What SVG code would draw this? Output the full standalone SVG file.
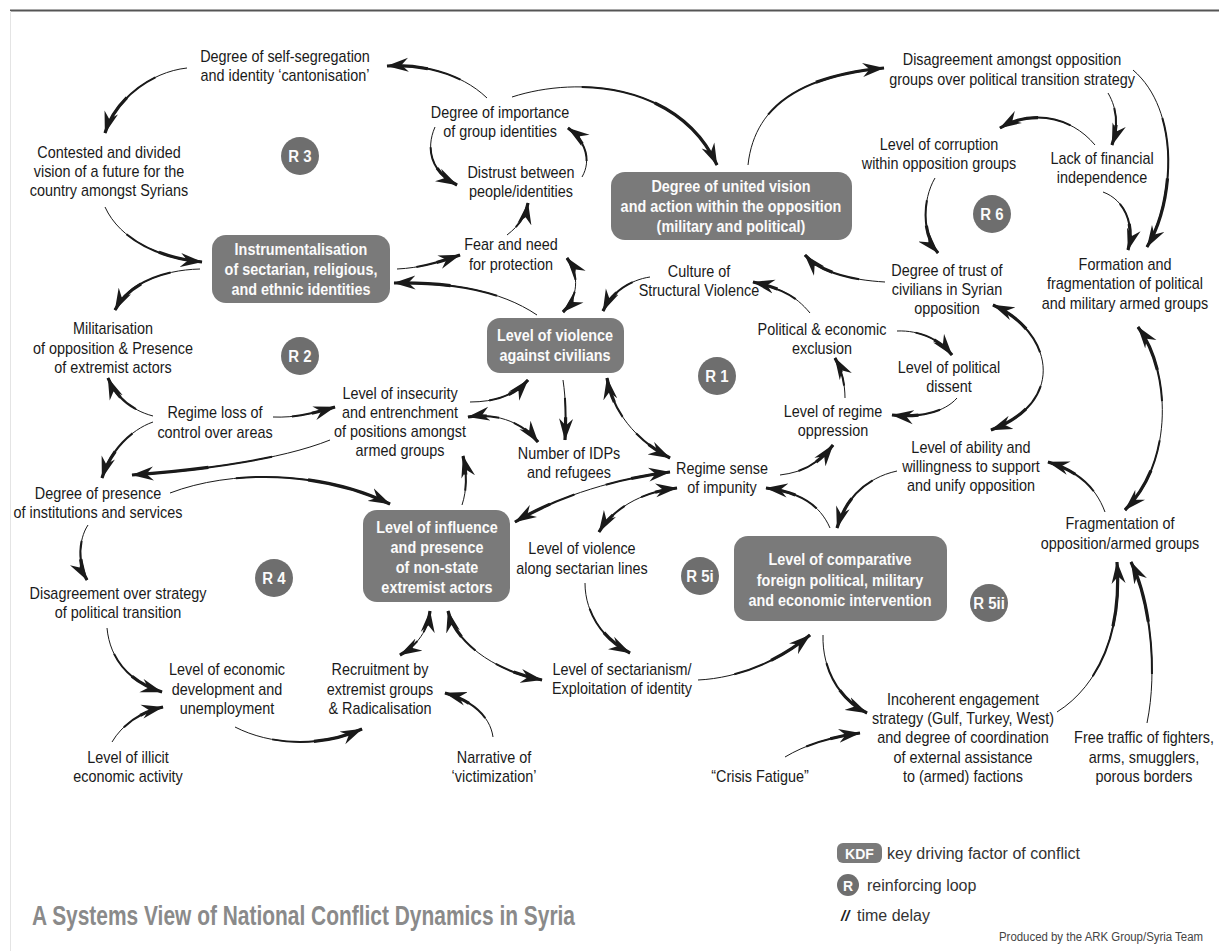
<svg xmlns="http://www.w3.org/2000/svg" xmlns:xlink="http://www.w3.org/1999/xlink" width="1219" height="951" viewBox="0 0 1219 951">
<style>
.t{font-family:"Liberation Sans",Arial,sans-serif;font-size:16px;fill:#1a1a1a;text-anchor:middle}
.b{font-family:"Liberation Sans",Arial,sans-serif;font-size:16px;font-weight:bold;fill:#fbfbfb;text-anchor:middle}
.box{fill:#7a7a7a}
.rc{fill:#6e6e6e}
.rt{font-family:"Liberation Sans",Arial,sans-serif;font-size:17px;font-weight:bold;fill:#fbfbfb;text-anchor:middle}
.lg{font-family:"Liberation Sans",Arial,sans-serif;font-size:16px;fill:#333}
.c use{fill:none;stroke:#1a1a1a;stroke-linecap:butt}
.s0{stroke-width:1;marker-end:url(#ah)}
.s1{stroke-width:2;stroke-dasharray:0 30 70}
.s2{stroke-width:3.2;stroke-dasharray:0 62 38}
.d0{stroke-width:1;marker-start:url(#ah);marker-end:url(#ah)}
.d1{stroke-width:2;stroke-dasharray:40 20 40}
.d2{stroke-width:3.2;stroke-dasharray:24 52 24}
</style>
<defs>
<marker id="ah" viewBox="0 0 22 15" refX="21.5" refY="7.5" markerWidth="22" markerHeight="15" markerUnits="userSpaceOnUse" orient="auto-start-reverse">
<path d="M0,0.5 L22,7.5 L0,14.5 L7,7.5 Z" fill="#1a1a1a"/>
</marker>
<path id="p01" pathLength="100" d="M487,98 C460,72 420,64 387,66"/>
<path id="p02" pathLength="100" d="M512,97 C580,75 680,85 717,165"/>
<path id="p03" pathLength="100" d="M748,165 C755,100 810,75 884,68"/>
<path id="p04" pathLength="100" d="M1133,70 C1180,110 1175,200 1147,247"/>
<path id="p05" pathLength="100" d="M1108,93 C1118,110 1118,128 1112,145"/>
<path id="p06" pathLength="100" d="M1095,145 C1070,115 1030,110 1000,128"/>
<path id="p07" pathLength="100" d="M1103,192 C1125,200 1135,225 1128,250"/>
<path id="p08" pathLength="100" d="M935,178 C922,200 922,235 938,253"/>
<path id="p09" pathLength="100" d="M885,282 C850,280 820,272 805,255"/>
<path id="p10" pathLength="100" d="M810,313 C795,295 780,288 753,282"/>
<path id="p11" pathLength="100" d="M650,277 C630,280 612,292 603,311"/>
<path id="p12" pathLength="100" d="M537,315 C500,290 450,282 394,283"/>
<path id="p13" pathLength="100" d="M397,269 C420,268 440,262 460,255"/>
<path id="p14" pathLength="100" d="M507,235 C520,225 526,215 528,203"/>
<path id="p15" pathLength="100" d="M582,177 C592,160 585,140 568,128"/>
<path id="p16" pathLength="100" d="M435,127 C425,150 432,172 457,185"/>
<path id="p17" pathLength="100" d="M567,258 C580,275 578,298 563,312"/>
<path id="p18" pathLength="100" d="M470,402 C495,402 515,395 528,380"/>
<path id="p19" pathLength="100" d="M563,380 C566,400 566,420 565,440"/>
<path id="p20" pathLength="100" d="M468,417 C500,412 525,425 538,442"/>
<path id="p21" pathLength="100" d="M607,378 C612,410 635,440 670,458"/>
<path id="p22" pathLength="100" d="M670,472 C620,478 560,495 515,522"/>
<path id="p23" pathLength="100" d="M677,488 C640,492 612,510 599,532"/>
<path id="p24" pathLength="100" d="M780,475 C805,472 820,462 833,445"/>
<path id="p25" pathLength="100" d="M845,398 C845,385 842,370 835,358"/>
<path id="p26" pathLength="100" d="M897,331 C920,330 940,340 952,355"/>
<path id="p27" pathLength="100" d="M957,398 C945,412 920,418 892,415"/>
<path id="p28" pathLength="100" d="M993,305 C1050,330 1070,400 991,430"/>
<path id="p29" pathLength="100" d="M1138,327 C1170,370 1175,460 1125,510"/>
<path id="p30" pathLength="100" d="M1105,512 C1095,485 1075,470 1048,462"/>
<path id="p31" pathLength="100" d="M897,471 C865,478 845,500 837,528"/>
<path id="p32" pathLength="100" d="M830,528 C820,505 800,492 766,488"/>
<path id="p33" pathLength="100" d="M823,635 C822,670 840,700 867,713"/>
<path id="p34" pathLength="100" d="M785,757 C805,745 830,737 860,733"/>
<path id="p35" pathLength="100" d="M698,680 C740,678 780,660 810,635"/>
<path id="p36" pathLength="100" d="M585,583 C585,615 605,640 630,653"/>
<path id="p37" pathLength="100" d="M448,611 C455,640 490,670 542,680"/>
<path id="p38" pathLength="100" d="M430,611 C428,630 418,645 400,655"/>
<path id="p39" pathLength="100" d="M493,737 C490,715 470,700 445,693"/>
<path id="p40" pathLength="100" d="M235,727 C270,745 320,748 362,729"/>
<path id="p41" pathLength="100" d="M107,628 C110,660 130,682 162,692"/>
<path id="p42" pathLength="100" d="M112,742 C122,725 140,712 163,707"/>
<path id="p43" pathLength="100" d="M88,525 C78,540 78,565 87,580"/>
<path id="p44" pathLength="100" d="M153,422 C130,430 110,452 102,478"/>
<path id="p45" pathLength="100" d="M153,416 C130,410 115,395 108,378"/>
<path id="p46" pathLength="100" d="M273,417 C295,418 315,413 335,407"/>
<path id="p47" pathLength="100" d="M330,440 C280,460 200,470 132,475"/>
<path id="p48" pathLength="100" d="M170,493 C230,470 320,470 390,504"/>
<path id="p49" pathLength="100" d="M462,505 C467,490 467,472 463,456"/>
<path id="p50" pathLength="100" d="M200,269 C160,270 128,285 115,310"/>
<path id="p51" pathLength="100" d="M105,207 C120,240 160,258 202,262"/>
<path id="p52" pathLength="100" d="M187,68 C150,72 115,100 105,133"/>
<path id="p53" pathLength="100" d="M1057,712 C1100,685 1122,630 1117,562"/>
<path id="p54" pathLength="100" d="M1147,723 C1158,670 1150,600 1131,562"/>
</defs>

<rect x="0" y="0" width="1219" height="951" fill="#ffffff"/>
<line x1="10" y1="10.5" x2="1219" y2="10.5" stroke="#555" stroke-width="2"/>
<line x1="10.5" y1="11" x2="10.5" y2="951" stroke="#e4e4e4" stroke-width="1"/>

<g id="connectors" class="c">
<use xlink:href="#p01" class="s0"/><use xlink:href="#p01" class="s1"/><use xlink:href="#p01" class="s2"/>
<use xlink:href="#p02" class="s0"/><use xlink:href="#p02" class="s1"/><use xlink:href="#p02" class="s2"/>
<use xlink:href="#p03" class="s0"/><use xlink:href="#p03" class="s1"/><use xlink:href="#p03" class="s2"/>
<use xlink:href="#p04" class="s0"/><use xlink:href="#p04" class="s1"/><use xlink:href="#p04" class="s2"/>
<use xlink:href="#p05" class="s0"/><use xlink:href="#p05" class="s1"/><use xlink:href="#p05" class="s2"/>
<use xlink:href="#p06" class="s0"/><use xlink:href="#p06" class="s1"/><use xlink:href="#p06" class="s2"/>
<use xlink:href="#p07" class="s0"/><use xlink:href="#p07" class="s1"/><use xlink:href="#p07" class="s2"/>
<use xlink:href="#p08" class="s0"/><use xlink:href="#p08" class="s1"/><use xlink:href="#p08" class="s2"/>
<use xlink:href="#p09" class="s0"/><use xlink:href="#p09" class="s1"/><use xlink:href="#p09" class="s2"/>
<use xlink:href="#p10" class="s0"/><use xlink:href="#p10" class="s1"/><use xlink:href="#p10" class="s2"/>
<use xlink:href="#p11" class="s0"/><use xlink:href="#p11" class="s1"/><use xlink:href="#p11" class="s2"/>
<use xlink:href="#p12" class="s0"/><use xlink:href="#p12" class="s1"/><use xlink:href="#p12" class="s2"/>
<use xlink:href="#p13" class="s0"/><use xlink:href="#p13" class="s1"/><use xlink:href="#p13" class="s2"/>
<use xlink:href="#p14" class="s0"/><use xlink:href="#p14" class="s1"/><use xlink:href="#p14" class="s2"/>
<use xlink:href="#p15" class="s0"/><use xlink:href="#p15" class="s1"/><use xlink:href="#p15" class="s2"/>
<use xlink:href="#p16" class="s0"/><use xlink:href="#p16" class="s1"/><use xlink:href="#p16" class="s2"/>
<use xlink:href="#p17" class="d0"/><use xlink:href="#p17" class="d1"/><use xlink:href="#p17" class="d2"/>
<use xlink:href="#p18" class="s0"/><use xlink:href="#p18" class="s1"/><use xlink:href="#p18" class="s2"/>
<use xlink:href="#p19" class="s0"/><use xlink:href="#p19" class="s1"/><use xlink:href="#p19" class="s2"/>
<use xlink:href="#p20" class="d0"/><use xlink:href="#p20" class="d1"/><use xlink:href="#p20" class="d2"/>
<use xlink:href="#p21" class="d0"/><use xlink:href="#p21" class="d1"/><use xlink:href="#p21" class="d2"/>
<use xlink:href="#p22" class="d0"/><use xlink:href="#p22" class="d1"/><use xlink:href="#p22" class="d2"/>
<use xlink:href="#p23" class="d0"/><use xlink:href="#p23" class="d1"/><use xlink:href="#p23" class="d2"/>
<use xlink:href="#p24" class="s0"/><use xlink:href="#p24" class="s1"/><use xlink:href="#p24" class="s2"/>
<use xlink:href="#p25" class="s0"/><use xlink:href="#p25" class="s1"/><use xlink:href="#p25" class="s2"/>
<use xlink:href="#p26" class="s0"/><use xlink:href="#p26" class="s1"/><use xlink:href="#p26" class="s2"/>
<use xlink:href="#p27" class="s0"/><use xlink:href="#p27" class="s1"/><use xlink:href="#p27" class="s2"/>
<use xlink:href="#p28" class="d0"/><use xlink:href="#p28" class="d1"/><use xlink:href="#p28" class="d2"/>
<use xlink:href="#p29" class="d0"/><use xlink:href="#p29" class="d1"/><use xlink:href="#p29" class="d2"/>
<use xlink:href="#p30" class="s0"/><use xlink:href="#p30" class="s1"/><use xlink:href="#p30" class="s2"/>
<use xlink:href="#p31" class="s0"/><use xlink:href="#p31" class="s1"/><use xlink:href="#p31" class="s2"/>
<use xlink:href="#p32" class="s0"/><use xlink:href="#p32" class="s1"/><use xlink:href="#p32" class="s2"/>
<use xlink:href="#p33" class="s0"/><use xlink:href="#p33" class="s1"/><use xlink:href="#p33" class="s2"/>
<use xlink:href="#p34" class="s0"/><use xlink:href="#p34" class="s1"/><use xlink:href="#p34" class="s2"/>
<use xlink:href="#p35" class="s0"/><use xlink:href="#p35" class="s1"/><use xlink:href="#p35" class="s2"/>
<use xlink:href="#p36" class="s0"/><use xlink:href="#p36" class="s1"/><use xlink:href="#p36" class="s2"/>
<use xlink:href="#p37" class="d0"/><use xlink:href="#p37" class="d1"/><use xlink:href="#p37" class="d2"/>
<use xlink:href="#p38" class="d0"/><use xlink:href="#p38" class="d1"/><use xlink:href="#p38" class="d2"/>
<use xlink:href="#p39" class="s0"/><use xlink:href="#p39" class="s1"/><use xlink:href="#p39" class="s2"/>
<use xlink:href="#p40" class="s0"/><use xlink:href="#p40" class="s1"/><use xlink:href="#p40" class="s2"/>
<use xlink:href="#p41" class="s0"/><use xlink:href="#p41" class="s1"/><use xlink:href="#p41" class="s2"/>
<use xlink:href="#p42" class="s0"/><use xlink:href="#p42" class="s1"/><use xlink:href="#p42" class="s2"/>
<use xlink:href="#p43" class="s0"/><use xlink:href="#p43" class="s1"/><use xlink:href="#p43" class="s2"/>
<use xlink:href="#p44" class="s0"/><use xlink:href="#p44" class="s1"/><use xlink:href="#p44" class="s2"/>
<use xlink:href="#p45" class="s0"/><use xlink:href="#p45" class="s1"/><use xlink:href="#p45" class="s2"/>
<use xlink:href="#p46" class="s0"/><use xlink:href="#p46" class="s1"/><use xlink:href="#p46" class="s2"/>
<use xlink:href="#p47" class="s0"/><use xlink:href="#p47" class="s1"/><use xlink:href="#p47" class="s2"/>
<use xlink:href="#p48" class="s0"/><use xlink:href="#p48" class="s1"/><use xlink:href="#p48" class="s2"/>
<use xlink:href="#p49" class="s0"/><use xlink:href="#p49" class="s1"/><use xlink:href="#p49" class="s2"/>
<use xlink:href="#p50" class="s0"/><use xlink:href="#p50" class="s1"/><use xlink:href="#p50" class="s2"/>
<use xlink:href="#p51" class="s0"/><use xlink:href="#p51" class="s1"/><use xlink:href="#p51" class="s2"/>
<use xlink:href="#p52" class="s0"/><use xlink:href="#p52" class="s1"/><use xlink:href="#p52" class="s2"/>
<use xlink:href="#p53" class="s0"/><use xlink:href="#p53" class="s1"/><use xlink:href="#p53" class="s2"/>
<use xlink:href="#p54" class="s0"/><use xlink:href="#p54" class="s1"/><use xlink:href="#p54" class="s2"/>
</g>

<g id="nodes">
<g id="n-self-segregation"><text class="t" transform="translate(285 0) scale(.9 1)"><tspan x="0" y="62">Degree of self-segregation</tspan><tspan x="0" y="81">and identity ‘cantonisation’</tspan></text></g>
<g id="n-contested"><text class="t" transform="translate(109 0) scale(.9 1)"><tspan x="0" y="158">Contested and divided</tspan><tspan x="0" y="177">vision of a future for the</tspan><tspan x="0" y="196">country amongst Syrians</tspan></text></g>
<g id="n-instrumentalisation"><rect class="box" x="212" y="235" width="178" height="68" rx="14"/><text class="b" transform="translate(301 0) scale(.9 1)"><tspan x="0" y="255">Instrumentalisation</tspan><tspan x="0" y="275">of sectarian, religious,</tspan><tspan x="0" y="295">and ethnic identities</tspan></text></g>
<g id="n-importance"><text class="t" transform="translate(500 0) scale(.9 1)"><tspan x="0" y="118">Degree of importance</tspan><tspan x="0" y="137">of group identities</tspan></text></g>
<g id="n-distrust"><text class="t" transform="translate(521 0) scale(.9 1)"><tspan x="0" y="178">Distrust between</tspan><tspan x="0" y="197">people/identities</tspan></text></g>
<g id="n-fear"><text class="t" transform="translate(511 0) scale(.9 1)"><tspan x="0" y="250">Fear and need</tspan><tspan x="0" y="270">for protection</tspan></text></g>
<g id="n-united"><rect class="box" x="611" y="172" width="241" height="68" rx="14"/><text class="b" transform="translate(731 0) scale(.9 1)"><tspan x="0" y="192">Degree of united vision</tspan><tspan x="0" y="212">and action within the opposition</tspan><tspan x="0" y="232">(military and political)</tspan></text></g>
<g id="n-culture"><text class="t" transform="translate(699 0) scale(.9 1)"><tspan x="0" y="277">Culture of</tspan><tspan x="0" y="296">Structural Violence</tspan></text></g>
<g id="n-violence"><rect class="box" x="487" y="318" width="137" height="55" rx="13"/><text class="b" transform="translate(555 0) scale(.9 1)"><tspan x="0" y="341">Level of violence</tspan><tspan x="0" y="361">against civilians</tspan></text></g>
<g id="n-disagreement-opp"><text class="t" transform="translate(1012 0) scale(.9 1)"><tspan x="0" y="65">Disagreement amongst opposition</tspan><tspan x="0" y="85">groups over political transition strategy</tspan></text></g>
<g id="n-corruption"><text class="t" transform="translate(939 0) scale(.9 1)"><tspan x="0" y="150">Level of corruption</tspan><tspan x="0" y="169">within opposition groups</tspan></text></g>
<g id="n-lack"><text class="t" transform="translate(1102 0) scale(.9 1)"><tspan x="0" y="164">Lack of financial</tspan><tspan x="0" y="183">independence</tspan></text></g>
<g id="n-trust"><text class="t" transform="translate(947 0) scale(.9 1)"><tspan x="0" y="276">Degree of trust of</tspan><tspan x="0" y="295">civilians in Syrian</tspan><tspan x="0" y="314">opposition</tspan></text></g>
<g id="n-formation"><text class="t" transform="translate(1125 0) scale(.9 1)"><tspan x="0" y="270">Formation and</tspan><tspan x="0" y="289">fragmentation of political</tspan><tspan x="0" y="309">and military armed groups</tspan></text></g>
<g id="n-militarisation"><text class="t" transform="translate(113 0) scale(.9 1)"><tspan x="0" y="334">Militarisation</tspan><tspan x="0" y="354">of opposition &amp; Presence</tspan><tspan x="0" y="373">of extremist actors</tspan></text></g>
<g id="n-regime-loss"><text class="t" transform="translate(215 0) scale(.9 1)"><tspan x="0" y="418">Regime loss of</tspan><tspan x="0" y="438">control over areas</tspan></text></g>
<g id="n-insecurity"><text class="t" transform="translate(400 0) scale(.9 1)"><tspan x="0" y="399">Level of insecurity</tspan><tspan x="0" y="418">and entrenchment</tspan><tspan x="0" y="437">of positions amongst</tspan><tspan x="0" y="456">armed groups</tspan></text></g>
<g id="n-idps"><text class="t" transform="translate(569 0) scale(.9 1)"><tspan x="0" y="459">Number of IDPs</tspan><tspan x="0" y="478">and refugees</tspan></text></g>
<g id="n-impunity"><text class="t" transform="translate(722 0) scale(.9 1)"><tspan x="0" y="474">Regime sense</tspan><tspan x="0" y="493">of impunity</tspan></text></g>
<g id="n-presence"><text class="t" transform="translate(98 0) scale(.9 1)"><tspan x="0" y="499">Degree of presence</tspan><tspan x="0" y="518">of institutions and services</tspan></text></g>
<g id="n-influence"><rect class="box" x="363" y="510" width="147" height="92" rx="14"/><text class="b" transform="translate(437 0) scale(.9 1)"><tspan x="0" y="533">Level of influence</tspan><tspan x="0" y="553">and presence</tspan><tspan x="0" y="573">of non-state</tspan><tspan x="0" y="593">extremist actors</tspan></text></g>
<g id="n-violence-sectarian"><text class="t" transform="translate(582 0) scale(.9 1)"><tspan x="0" y="554">Level of violence</tspan><tspan x="0" y="574">along sectarian lines</tspan></text></g>
<g id="n-comparative"><rect class="box" x="734" y="536" width="213" height="85" rx="14"/><text class="b" transform="translate(840 0) scale(.9 1)"><tspan x="0" y="565">Level of comparative</tspan><tspan x="0" y="586">foreign political, military</tspan><tspan x="0" y="606">and economic intervention</tspan></text></g>
<g id="n-exclusion"><text class="t" transform="translate(822 0) scale(.9 1)"><tspan x="0" y="335">Political &amp; economic</tspan><tspan x="0" y="354">exclusion</tspan></text></g>
<g id="n-dissent"><text class="t" transform="translate(949 0) scale(.9 1)"><tspan x="0" y="373">Level of political</tspan><tspan x="0" y="392">dissent</tspan></text></g>
<g id="n-oppression"><text class="t" transform="translate(833 0) scale(.9 1)"><tspan x="0" y="417">Level of regime</tspan><tspan x="0" y="436">oppression</tspan></text></g>
<g id="n-ability"><text class="t" transform="translate(971 0) scale(.9 1)"><tspan x="0" y="453">Level of ability and</tspan><tspan x="0" y="472">willingness to support</tspan><tspan x="0" y="491">and unify opposition</tspan></text></g>
<g id="n-fragmentation"><text class="t" transform="translate(1120 0) scale(.9 1)"><tspan x="0" y="529">Fragmentation of</tspan><tspan x="0" y="549">opposition/armed groups</tspan></text></g>
<g id="n-disagreement-strategy"><text class="t" transform="translate(118 0) scale(.9 1)"><tspan x="0" y="599">Disagreement over strategy</tspan><tspan x="0" y="618">of political transition</tspan></text></g>
<g id="n-economic"><text class="t" transform="translate(227 0) scale(.9 1)"><tspan x="0" y="675">Level of economic</tspan><tspan x="0" y="695">development and</tspan><tspan x="0" y="714">unemployment</tspan></text></g>
<g id="n-illicit"><text class="t" transform="translate(128 0) scale(.9 1)"><tspan x="0" y="763">Level of illicit</tspan><tspan x="0" y="782">economic activity</tspan></text></g>
<g id="n-recruitment"><text class="t" transform="translate(380 0) scale(.9 1)"><tspan x="0" y="675">Recruitment by</tspan><tspan x="0" y="695">extremist groups</tspan><tspan x="0" y="714">&amp; Radicalisation</tspan></text></g>
<g id="n-narrative"><text class="t" transform="translate(494 0) scale(.9 1)"><tspan x="0" y="763">Narrative of</tspan><tspan x="0" y="782">‘victimization’</tspan></text></g>
<g id="n-sectarianism"><text class="t" transform="translate(622 0) scale(.9 1)"><tspan x="0" y="675">Level of sectarianism/</tspan><tspan x="0" y="694">Exploitation of identity</tspan></text></g>
<g id="n-incoherent"><text class="t" transform="translate(963 0) scale(.9 1)"><tspan x="0" y="705">Incoherent engagement</tspan><tspan x="0" y="724">strategy (Gulf, Turkey, West)</tspan><tspan x="0" y="743">and degree of coordination</tspan><tspan x="0" y="763">of external assistance</tspan><tspan x="0" y="782">to (armed) factions</tspan></text></g>
<g id="n-crisis"><text class="t" transform="translate(760 0) scale(.9 1)"><tspan x="0" y="782">“Crisis Fatigue”</tspan></text></g>
<g id="n-free-traffic"><text class="t" transform="translate(1144 0) scale(.9 1)"><tspan x="0" y="743">Free traffic of fighters,</tspan><tspan x="0" y="763">arms, smugglers,</tspan><tspan x="0" y="782">porous borders</tspan></text></g>
</g>

<g id="loops">
<g id="r3"><circle class="rc" cx="300" cy="156" r="19"/><text class="rt" transform="translate(300 162) scale(.88 1)">R 3</text></g>
<g id="r2"><circle class="rc" cx="300" cy="356" r="19"/><text class="rt" transform="translate(300 362) scale(.88 1)">R 2</text></g>
<g id="r1"><circle class="rc" cx="717" cy="376" r="19"/><text class="rt" transform="translate(717 382) scale(.88 1)">R 1</text></g>
<g id="r4"><circle class="rc" cx="274" cy="578" r="19"/><text class="rt" transform="translate(274 584) scale(.88 1)">R 4</text></g>
<g id="r5i"><circle class="rc" cx="700" cy="576" r="19"/><text class="rt" transform="translate(700 582) scale(.88 1)">R 5i</text></g>
<g id="r5ii"><circle class="rc" cx="989" cy="603" r="19"/><text class="rt" transform="translate(989 609) scale(.88 1)">R 5ii</text></g>
<g id="r6"><circle class="rc" cx="992" cy="214" r="19"/><text class="rt" transform="translate(992 220) scale(.88 1)">R 6</text></g>
</g>

<g id="legend">
<rect class="box" x="837" y="843" width="45" height="20" rx="6"/>
<text class="b" x="859.5" y="859" style="font-size:14px">KDF</text>
<text class="lg" x="887" y="859">key driving factor of conflict</text>
<circle class="rc" cx="848" cy="885" r="11"/>
<text class="b" x="848" y="890.5" style="font-size:14px">R</text>
<text class="lg" x="867" y="891">reinforcing loop</text>
<text class="lg" x="841" y="921" style="font-weight:bold;font-style:italic;font-size:15px;fill:#222">//</text>
<text class="lg" x="857" y="921">time delay</text>
<text class="lg" x="999" y="941" style="font-size:12px;fill:#444" textLength="204" lengthAdjust="spacingAndGlyphs">Produced by the ARK Group/Syria Team</text>
</g>

<text id="title" x="32" y="925" style="font-family:'Liberation Sans',Arial,sans-serif;font-size:28px;font-weight:bold;fill:#8a8a8a" textLength="543" lengthAdjust="spacingAndGlyphs">A Systems View of National Conflict Dynamics in Syria</text>
</svg>
